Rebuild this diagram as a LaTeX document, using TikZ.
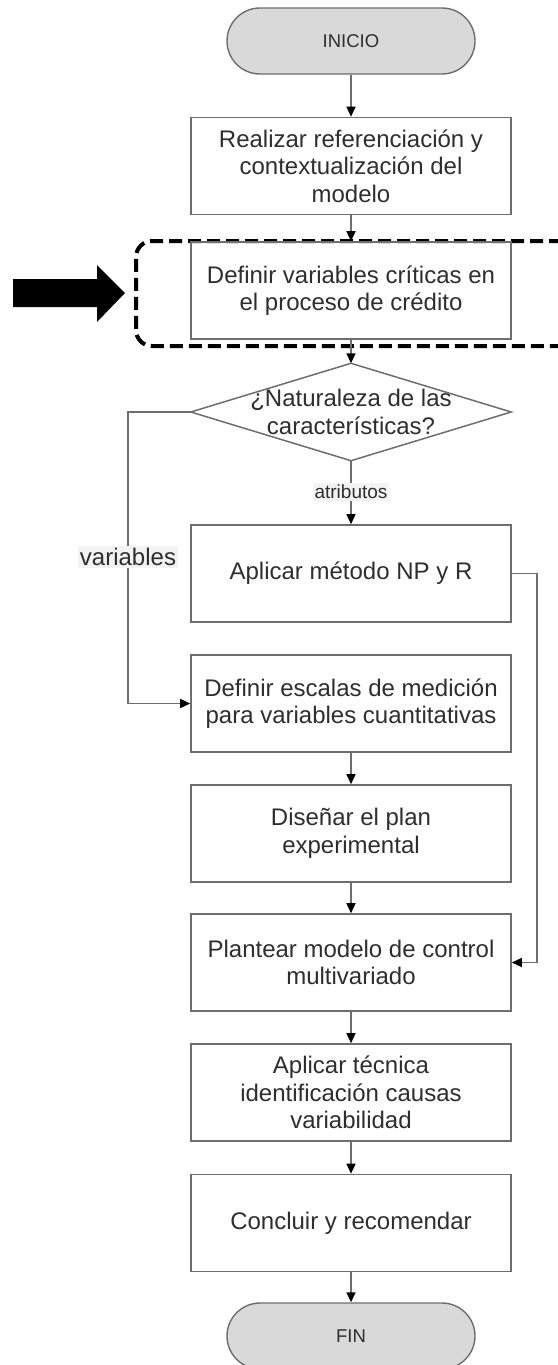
\documentclass[tikz,border=0pt]{standalone}
\usepackage{fontspec}
\setmainfont{Liberation Sans}
\usetikzlibrary{arrows.meta}
\definecolor{txt}{HTML}{2E2E2E}
\definecolor{edge}{HTML}{6E6E6E}
\definecolor{term}{HTML}{D9D9D9}
\definecolor{lblbg}{HTML}{F3F3F3}
\tikzset{
  stepbox/.style={draw=edge, line width=1.6pt, minimum width=320pt, minimum height=97pt,
    inner sep=0pt, align=center, text=txt, font=\fontsize{24}{27.5}\selectfont},
  termbox/.style={draw=edge, line width=1.4pt, fill=term, rounded corners=33pt,
    minimum width=248pt, minimum height=66pt, inner sep=0pt, text=txt,
    font=\fontsize{18.5}{21}\selectfont},
  conn/.style={draw=edge, line width=1.5pt, -{Triangle[length=10pt,width=9pt,color=black]}},
  edgelbl/.style={fill=lblbg, inner sep=2pt, text=txt},
}
\begin{document}
\begin{tikzpicture}[x=1pt,y=-1pt]
\useasboundingbox (0,0) rectangle (557,1365);
% highlight frame
\node (frame) [draw=black, line width=4pt, dash pattern=on 13pt off 6pt, rounded corners=16pt,
  minimum width=442pt, minimum height=105pt, inner sep=0pt] at (357,293.5) {};
% big arrow
\fill[black] (13,279) -- (97,279) -- (97,265) -- (125,293) -- (97,322) -- (97,307) -- (13,307) -- cycle;

\node (inicio) [termbox] at (351,41) {INICIO};
\node (b1) [stepbox] at (351,166) {Realizar referenciación y\\contextualización del\\modelo};
\node (b2) [stepbox] at (351,290.5) {Definir variables críticas en\\el proceso de crédito};
\node (dia) [minimum width=320pt, minimum height=97pt, inner sep=0pt, align=center, text=txt,
  font=\fontsize{24}{27.5}\selectfont] at (351,412) {¿Naturaleza de las\\características?};
\draw[edge, line width=1.5pt] (dia.north) -- (dia.east) -- (dia.south) -- (dia.west) -- cycle;
\node (b3) [stepbox] at (351,573.5) {Aplicar método NP y R};
\node (b4) [stepbox] at (351,703.5) {Definir escalas de medición\\para variables cuantitativas};
\node (b5) [stepbox] at (351,833.5) {Diseñar el plan\\experimental};
\node (b6) [stepbox] at (351,962.5) {Plantear modelo de control\\multivariado};
\node (b7) [stepbox] at (351,1092.5) {Aplicar técnica\\identificación causas\\variabilidad};
\node (b8) [stepbox] at (351,1223) {Concluir y recomendar};
\node (fin) [termbox] at (351,1336) {FIN};

\coordinate (lx) at (128,412);
\coordinate (rx) at (537,573.5);

\draw[conn] (inicio.south) -- (b1.north);
\draw[conn] (b1.south) -- (b2.north);
\draw[conn] (b2.south) -- (dia.north);
\draw[conn] (dia.south) -- (b3.north);
\node (atr) [edgelbl, font=\fontsize{19}{21}\selectfont] at (351,492) {atributos};
\draw[conn] (dia.west) -- (lx) |- (b4.west);
\node (var) [edgelbl, font=\fontsize{24}{27}\selectfont] at (128,557) {variables};
\draw[conn] (b3.east) -- (rx) |- (b6.east);
\draw[conn] (b4.south) -- (b5.north);
\draw[conn] (b5.south) -- (b6.north);
\draw[conn] (b6.south) -- (b7.north);
\draw[conn] (b7.south) -- (b8.north);
\draw[conn] (b8.south) -- (fin.north);
\end{tikzpicture}
\end{document}
